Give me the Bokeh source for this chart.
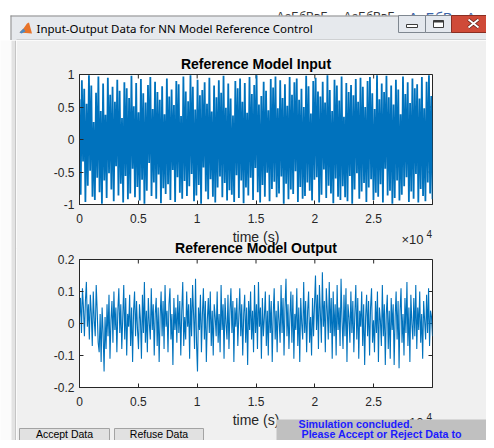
import numpy as np
from bokeh.plotting import figure
from bokeh.models import Range1d, FixedTicker, GridBox
from bokeh.layouts import column, row
from bokeh.embed import file_html
from bokeh.resources import INLINE
from bokeh.core.properties import value

# ---------------- data ----------------
input_values = [
    0.62, -0.85, 0.91, -0.34, 0.78, -0.96, 0.55, -0.71, 0.99, -0.48, 0.83, -0.88, 0.27, -0.93, 0.72, -0.59, 0.97, -0.81, 0.44, -0.99,
    0.86, -0.63, 0.38, -0.90, 0.95, -0.52, 0.69, -0.77, 0.81, -0.95, 0.58, -0.41, 0.92, -0.86, 0.75, -0.68, 0.33, -0.97, 0.88, -0.56,
    0.79, -0.92, 0.64, -0.83, 0.98, -0.45, 0.51, -0.89, 0.87, -0.73, 0.42, -0.94, 0.93, -0.62, 0.71, -0.99, 0.57, -0.79, 0.84, -0.36,
    0.96, -0.87, 0.47, -0.66, 0.89, -0.91, 0.73, -0.54, 0.61, -0.98, 0.82, -0.75, 0.39, -0.84, 0.94, -0.69, 0.66, -0.93, 0.77, -0.47,
    0.53, -0.96, 0.90, -0.58, 0.85, -0.82, 0.36, -0.91, 0.97, -0.64, 0.74, -0.87, 0.59, -0.72, 0.99, -0.53, 0.81, -0.95, 0.46, -0.86,
    0.92, -0.70, 0.68, -0.99, 0.76, -0.43, 0.88, -0.80, 0.55, -0.92, 0.95, -0.61, 0.43, -0.88, 0.83, -0.97, 0.65, -0.74, 0.91, -0.57,
    0.72, -0.89, 0.98, -0.67, 0.49, -0.94, 0.86, -0.78, 0.63, -0.85, 0.37, -0.96, 0.90, -0.55, 0.79, -0.90, 0.94, -0.63, 0.58, -0.98,
    0.87, -0.74, 0.41, -0.86, 0.96, -0.59, 0.70, -0.93, 0.84, -0.44, 0.99, -0.81, 0.54, -0.97, 0.67, -0.70, 0.89, -0.88, 0.75, -0.51,
    0.45, -0.95, 0.93, -0.76, 0.80, -0.65, 0.97, -0.89, 0.48, -0.83, 0.91, -0.57, 0.64, -0.99, 0.85, -0.68, 0.52, -0.92, 0.96, -0.77,
    0.69, -0.84, 0.88, -0.49, 0.94, -0.96, 0.61, -0.73, 0.78, -0.91, 0.50, -0.87, 0.98, -0.66, 0.82, -0.79, 0.40, -0.94, 0.90, -0.62,
    0.95, -0.58, 0.74, -0.97, 0.66, -0.85, 0.89, -0.46, 0.57, -0.90, 0.99, -0.71, 0.76, -0.83, 0.44, -0.98, 0.92, -0.60, 0.83, -0.88,
    0.60, -0.93, 0.97, -0.72, 0.35, -0.89, 0.87, -0.95, 0.73, -0.56, 0.84, -0.99, 0.68, -0.77, 0.93, -0.52, 0.58, -0.91, 0.95, -0.80,
    0.81, -0.67, 0.50, -0.96, 0.90, -0.74, 0.96, -0.61, 0.71, -0.93, 0.47, -0.82, 0.99, -0.88, 0.62, -0.69, 0.86, -0.97, 0.73, -0.45,
    0.98, -0.86, 0.65, -0.79, 0.83, -0.99, 0.54, -0.90, 0.92, -0.63, 0.77, -0.94, 0.39, -0.85, 0.97, -0.72, 0.70, -0.58, 0.88, -0.96,
    0.56, -0.80, 0.94, -0.91, 0.79, -0.53, 0.85, -0.97, 0.63, -0.76, 0.96, -0.87, 0.48, -0.95, 0.89, -0.66, 0.99, -0.83, 0.67, -0.92,
]
output_values = [
    0.02, 0.08, -0.03, 0.11, 0.05, -0.04, 0.07, 0.13, -0.01, 0.06, -0.05, 0.09, 0.03, -0.07, 0.10, 0.01, -0.04, 0.12, 0.04, -0.06,
    -0.09, 0.03, -0.12, 0.05, -0.03, -0.15, 0.02, -0.08, 0.06, -0.04, 0.09, -0.11, 0.01, 0.07, -0.06, 0.10, -0.02, 0.05, -0.09, 0.04,
    0.11, -0.03, 0.06, -0.08, 0.02, 0.12, -0.05, 0.08, -0.10, 0.03, -0.01, 0.09, -0.07, 0.05, -0.12, 0.04, 0.10, -0.04, 0.07, -0.02,
    -0.08, 0.06, 0.01, -0.11, 0.09, -0.03, 0.13, -0.06, 0.04, -0.09, 0.08, 0.00, -0.05, 0.11, -0.02, 0.06, -0.10, 0.03, 0.08, -0.07,
    0.05, -0.12, 0.02, 0.10, -0.04, 0.07, -0.08, 0.12, -0.01, 0.04, -0.09, 0.06, 0.11, -0.05, 0.03, -0.13, 0.08, -0.02, 0.05, -0.06,
    0.09, -0.03, 0.07, -0.10, 0.04, 0.13, -0.07, 0.02, -0.05, 0.10, -0.01, 0.06, -0.11, 0.08, -0.04, 0.12, 0.03, -0.08, 0.14, -0.06,
    -0.15, 0.05, -0.02, 0.09, -0.09, 0.03, 0.11, -0.05, 0.07, -0.12, 0.01, 0.08, -0.03, 0.10, -0.07, 0.04, -0.10, 0.06, 0.02, -0.04,
    0.10, -0.06, 0.03, -0.09, 0.12, -0.02, 0.06, -0.11, 0.08, 0.00, -0.05, 0.09, -0.08, 0.04, 0.11, -0.03, 0.07, -0.12, 0.05, -0.01,
    0.08, -0.07, 0.02, 0.11, -0.04, 0.06, -0.10, 0.03, 0.09, -0.06, 0.05, -0.13, 0.07, -0.02, 0.10, -0.05, 0.04, -0.09, 0.12, -0.03,
    0.06, -0.08, 0.13, -0.01, 0.05, -0.11, 0.08, -0.04, 0.02, 0.10, -0.07, 0.04, -0.10, 0.09, -0.03, 0.07, -0.12, 0.03, 0.11, -0.05,
    0.04, -0.09, 0.07, 0.01, -0.06, 0.12, -0.03, 0.08, -0.10, 0.05, 0.14, -0.04, 0.06, -0.08, 0.02, 0.10, -0.06, 0.09, -0.11, 0.03,
    -0.02, 0.11, -0.07, 0.05, -0.12, 0.08, 0.00, -0.05, 0.13, -0.03, 0.07, -0.09, 0.04, 0.10, -0.06, 0.02, -0.10, 0.08, -0.04, 0.06,
    0.15, -0.02, 0.09, -0.08, 0.12, 0.03, -0.06, 0.16, -0.01, 0.07, -0.09, 0.11, 0.04, -0.05, 0.13, -0.03, 0.08, -0.11, 0.10, -0.04,
    0.06, -0.10, 0.12, -0.02, 0.05, -0.07, 0.14, 0.01, -0.08, 0.09, -0.04, 0.11, -0.12, 0.06, 0.02, -0.06, 0.10, -0.03, 0.07, -0.09,
    0.03, 0.12, -0.05, 0.08, -0.11, 0.04, -0.01, 0.10, -0.07, 0.06, -0.13, 0.02, 0.09, -0.04, 0.07, -0.10, 0.05, 0.11, -0.06, 0.01,
    -0.09, 0.07, -0.03, 0.10, -0.12, 0.05, 0.01, -0.07, 0.12, -0.04, 0.06, -0.13, 0.03, 0.09, -0.08, 0.04, -0.11, 0.08, -0.02, 0.06,
    -0.13, 0.02, 0.10, -0.05, 0.07, -0.14, 0.04, 0.11, -0.06, 0.03, -0.10, 0.08, -0.03, 0.13, -0.07, 0.05, -0.12, 0.09, 0.00, -0.05,
    0.08, -0.04, 0.12, -0.08, 0.05, -0.02, 0.10, -0.06, 0.03, -0.11, 0.07, 0.01, -0.05, 0.09, -0.03, 0.11, -0.07, 0.04, 0.02, -0.04,
]
t_end = 30000
x_ticks = [0, 5000, 10000, 15000, 20000, 25000]
x_tick_labels = ["0", "0.5", "1", "1.5", "2", "2.5"]
in_ticks = [-1, -0.5, 0, 0.5, 1]
in_tick_labels = ["-1", "-0.5", "0", "0.5", "1"]
out_ticks = [-0.2, -0.1, 0, 0.1, 0.2]
out_tick_labels = ["-0.2", "-0.1", "0", "0.1", "0.2"]

BG = "#f0f0f0"
AX = "#262626"
LINE = "#0072bd"
FONT = "Liberation Sans"


def make_plot(height, mb_top, mb_bottom, y_lo, y_hi, yticks, ylabels):
    p = figure(width=470, height=height, x_range=Range1d(0, t_end), y_range=Range1d(y_lo, y_hi),
               output_backend="svg", toolbar_location=None,
               min_border_left=63, min_border_right=54, min_border_top=mb_top, min_border_bottom=mb_bottom,
               background_fill_color="white", border_fill_color=BG,
               outline_line_color=AX, outline_line_width=1)
    p.grid.visible = False
    xa = p.xaxis[0]
    ya = p.yaxis[0]
    xa.ticker = FixedTicker(ticks=x_ticks)
    xa.major_label_overrides = dict(zip(x_ticks, x_tick_labels))
    ya.ticker = FixedTicker(ticks=yticks)
    ya.major_label_overrides = dict(zip(yticks, ylabels))
    for ax in (xa, ya):
        ax.major_tick_in = 4
        ax.major_tick_out = 0
        ax.minor_tick_line_color = None
        ax.axis_line_color = AX
        ax.major_tick_line_color = AX
        ax.major_label_text_font = FONT
        ax.major_label_text_font_size = "12px"
        ax.major_label_text_color = AX
    ya.major_label_standoff = 5
    xa.major_label_standoff = 9
    xa.axis_label = "time (s)"
    xa.axis_label_text_font = FONT
    xa.axis_label_text_font_size = "14px"
    xa.axis_label_text_font_style = "normal"
    xa.axis_label_text_color = AX
    xa.axis_label_standoff = 3
    # MATLAB box: inward ticks on the top and right edges too (half of each dash is clipped)
    p.scatter(x_ticks, [y_hi] * len(x_ticks), marker="dash", size=8, angle=np.pi / 2,
              line_color=AX, line_width=1)
    p.scatter([t_end] * len(yticks), yticks, marker="dash", size=8, line_color=AX, line_width=1)
    return p


# ---------------- top plot ----------------
p1 = make_plot(208, 34, 44, -1, 1, in_ticks, in_tick_labels)
p1.title.text = "Reference Model Input"
p1.title.align = "center"
p1.title.text_font = FONT
p1.title.text_font_size = "14px"
p1.title.text_font_style = "bold"
p1.title.text_color = "black"
p1.title.standoff = 6
t_in = np.linspace(0, t_end, len(input_values))
p1.line(t_in, input_values, line_color=LINE, line_width=1.8)

# ---------------- bottom plot ----------------
p2 = make_plot(192, 11, 53, -0.2, 0.2, out_ticks, out_tick_labels)
p2.title = None
t_out = np.linspace(0, t_end, len(output_values))
p2.line(t_out, output_values, line_color=LINE, line_width=1.1)

# ---------------- window chrome ----------------
hdr = figure(width=486, height=40, x_range=Range1d(0, 486), y_range=Range1d(40, 0),
             output_backend="svg", toolbar_location=None, min_border=0,
             x_axis_location=None, y_axis_location=None,
             background_fill_color="white", border_fill_color="white", outline_line_color=None)
hdr.grid.visible = False
hdr.text(x=[276, 343, 408, 466], y=[16, 16, 17, 17], text=["АаБбВвГ", "АаБбВвГ", "АаБбВ", "Аа"],
         text_font=value(FONT), text_font_size=["12px", "12px", "14px", "13px"],
         text_baseline="alphabetic", text_color=["#333333", "#333333", "#3a64a8", "#3a64a8"])
hdr.quad(left=10, right=486, top=15, bottom=40, fill_color="#e6e9ed", line_color=None)
hdr.segment(x0=10, y0=15.5, x1=486, y1=15.5, line_color="#8c8c8c", line_width=1)
hdr.segment(x0=10.5, y0=15, x1=10.5, y1=40, line_color="#8c8c8c", line_width=1)
hdr.segment(x0=16, y0=39.5, x1=486, y1=39.5, line_color="#b8b8b8", line_width=1)
hdr.patch(x=[19, 23, 26.5, 28.5, 31.5], y=[32, 28, 23, 22, 33], fill_color="#e8742a", line_color=None)
hdr.patch(x=[19, 23, 25, 21], y=[32, 28, 31, 33], fill_color="#4a8ac4", line_color=None)
hdr.text(x=[36], y=[28], text=["Input-Output Data for NN Model Reference Control"],
         text_font=value("Noto Sans"), text_font_size="11.5px", text_baseline="middle",
         text_color="black")
hdr.quad(left=398, right=425, top=15, bottom=32, fill_color="#e4e8ee", line_color="#7f8790")
hdr.quad(left=425, right=451, top=15, bottom=32, fill_color="#e4e8ee", line_color="#7f8790")
hdr.quad(left=451, right=490, top=15, bottom=32, fill_color="#cf4a38", line_color="#8a2e22")
hdr.quad(left=406, right=417, top=24, bottom=27, fill_color="white", line_color="#3c3c3c")
hdr.quad(left=433, right=443, top=20, bottom=27, fill_color="white", line_color="#3c3c3c")
hdr.segment(x0=433, y0=21, x1=443, y1=21, line_color="#3c3c3c", line_width=2)
hdr.segment(x0=[468, 468], y0=[19, 27], x1=[478, 478], y1=[27, 19], line_color="#5a1a12", line_width=3.5)
hdr.segment(x0=[468, 468], y0=[19, 27], x1=[478, 478], y1=[27, 19], line_color="white", line_width=2)

left = figure(width=16, height=400, x_range=Range1d(0, 16), y_range=Range1d(440, 40),
              output_backend="svg", toolbar_location=None, min_border=0,
              x_axis_location=None, y_axis_location=None,
              background_fill_color="#fbfbfb", border_fill_color="#fbfbfb", outline_line_color=None)
left.grid.visible = False
left.quad(left=11, right=15, top=40, bottom=440, fill_color="#e3e3e3", line_color=None)
left.segment(x0=15.5, y0=40, x1=15.5, y1=440, line_color="#9a9a9a", line_width=1)

# ---------------- transparent overlay (texts and dialog controls over the figure borders) ----------------
ov = figure(width=486, height=440, x_range=Range1d(0, 486), y_range=Range1d(440, 0),
            output_backend="svg", toolbar_location=None, min_border=0,
            x_axis_location=None, y_axis_location=None,
            background_fill_alpha=0, border_fill_alpha=0, outline_line_color=None)
ov.grid.visible = False
# hide the seam between the two figures
ov.quad(left=16, right=486, top=247.5, bottom=248.5, fill_color=BG, line_color=None)
# exponent of both time axes
ov.text(x=[423, 423], y=[239, 422], text=["×10", "×10"], text_font=value(FONT), text_font_size="13px",
        text_align="right", text_baseline="middle", text_color=AX)
ov.text(x=[431.5, 431.5], y=[233.5, 416.5], text=["4", "4"], text_font=value(FONT), text_font_size="10px",
        text_align="right", text_baseline="middle", text_color=AX)
# title of the lower axes
ov.text(x=[255.5], y=[247.5], text=["Reference Model Output"], text_font=value(FONT),
        text_font_size="14px", text_font_style="bold", text_align="center",
        text_baseline="middle", text_color="black")
# buttons
ov.quad(left=[19, 114], right=[109, 203], top=[428, 428], bottom=[442, 442],
        fill_color="#e1e1e1", line_color="#a3a3a3")
ov.text(x=[64, 158.5], y=[433.5, 433.5], text=["Accept Data", "Refuse Data"], text_font=value(FONT),
        text_font_size="10.5px", text_align="center", text_baseline="middle", text_color="black")
# status box
ov.quad(left=276, right=489, top=419, bottom=442, fill_color="#c0c0c0", line_color=None)
ov.text(x=[298, 301], y=[423.5, 433], text=["Simulation concluded.", "Please Accept or Reject Data to"],
        text_font=value(FONT), text_font_size="10.7px", text_font_style="bold",
        text_baseline="middle", text_color="#1c1cff")

base = column(hdr, row(left, column(p1, p2)))
layout = GridBox(children=[(base, 0, 0), (ov, 0, 0)])

open("out.html", "w").write(file_html(layout, INLINE))
